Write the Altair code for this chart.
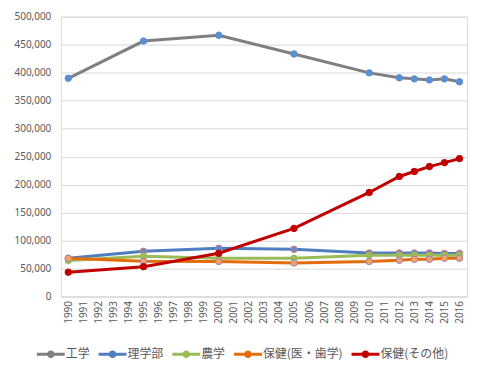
import altair as alt
import pandas as pd

all_years = [str(y) for y in range(1990, 2017)]
years = ["1990", "1995", "2000", "2005", "2010", "2012", "2013", "2014", "2015", "2016"]
series = ["工学", "理学部", "農学", "保健(医・歯学)", "保健(その他)"]

kogaku = [390000, 456500, 467000, 433500, 399700, 390800, 389000, 387000, 389000, 383700]
rigaku = [68400, 80900, 86200, 84400, 77800, 77800, 77800, 77800, 77000, 77000]
nogaku = [64200, 71900, 68400, 68400, 73700, 73700, 73700, 73700, 73700, 73700]
hoken_ishi = [68400, 63000, 62500, 60000, 62500, 64800, 66500, 66500, 68400, 68400]
hoken_other = [43500, 53400, 77300, 121800, 186000, 214500, 223400, 232200, 239300, 246500]

line_colors = ["#7F7F7F", "#4F7EC0", "#9BBB59", "#E46C0A", "#C00000"]
marker_fill = ["#5B8FD0", "#5B8FD0", "#9BBB59", "#F4A460", "#C00000"]
marker_stroke = ["#5B8FD0", "#E07070", "#9BBB59", "#9A7FC0", "#C00000"]

values = [kogaku, rigaku, nogaku, hoken_ishi, hoken_other]
rows = []
for s, vals in zip(series, values):
    for y, v in zip(years, vals):
        rows.append({"year": y, "series": s, "value": v})
df = pd.DataFrame(rows)

x_enc = alt.X(
    "year:O",
    scale=alt.Scale(type="point", domain=all_years, padding=0.5),
    axis=alt.Axis(
        title=None, labelAngle=-90, ticks=False, grid=False,
        domainColor="#D9D9D9", labelColor="#595959", labelFontSize=10,
        labelFont="Noto Sans", labelPadding=4,
    ),
)
y_enc = alt.Y(
    "value:Q",
    scale=alt.Scale(domain=[0, 500000]),
    axis=alt.Axis(
        title=None, format=",.0f", values=list(range(0, 500001, 50000)),
        domain=False, ticks=False, gridColor="#D9D9D9", labelColor="#595959",
        labelFontSize=10, labelFont="Noto Sans", labelPadding=10,
        minExtent=45, maxExtent=45,
    ),
)

sym = "M-1,-0.11H1V0.11H-1Z M0.27,0A0.27,0.27,0,1,1,-0.27,0A0.27,0.27,0,1,1,0.27,0Z"

lines = alt.Chart(df).mark_line(strokeWidth=3).encode(
    x=x_enc, y=y_enc,
    stroke=alt.Stroke("series:N", scale=alt.Scale(domain=series, range=line_colors), sort=series, legend=None),
)

points = alt.Chart(df).mark_point(filled=False, size=42, strokeWidth=1, opacity=1).encode(
    x=x_enc, y=y_enc,
    fill=alt.Fill("series:N", scale=alt.Scale(domain=series, range=marker_fill), legend=None),
    stroke=alt.Stroke("series:N", scale=alt.Scale(domain=series, range=marker_stroke), legend=None),
)

legend_layer = alt.Chart(df).mark_circle(size=0, opacity=0).encode(
    x=x_enc, y=y_enc,
    color=alt.Color(
        "series:N", scale=alt.Scale(domain=series, range=line_colors), sort=series,
        legend=alt.Legend(
            title=None, orient="none", direction="horizontal",
            legendX=-24, legendY=325, symbolType=sym, symbolSize=784,
            symbolOpacity=1, symbolStrokeWidth=0,
            labelFont="Noto Sans CJK JP", labelFontSize=12, labelColor="#595959",
            labelOffset=1, columnPadding=8, labelLimit=200,
        ),
    ),
)

chart = alt.layer(lines, points, legend_layer).resolve_scale(
    stroke="independent", fill="independent", color="independent"
).properties(
    width=408, height=281,
    padding={"left": 6, "top": 3, "right": 8, "bottom": 8},
).configure_view(stroke=None).configure(background="white")

chart.save("out.html", embed_options={"renderer": "svg", "actions": False})
